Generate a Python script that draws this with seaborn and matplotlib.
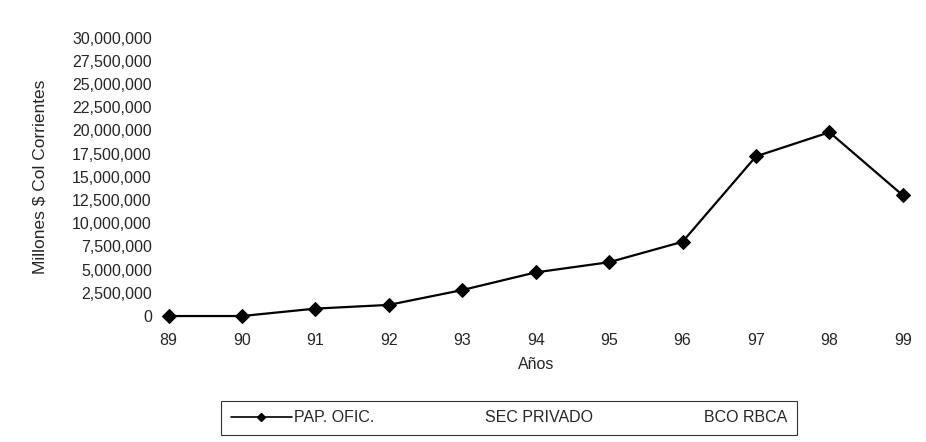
import numpy as np
import pandas as pd
import seaborn as sns
import matplotlib.pyplot as plt
from matplotlib.lines import Line2D
from matplotlib.ticker import FuncFormatter

years = [89, 90, 91, 92, 93, 94, 95, 96, 97, 98, 99]
pap_ofic = [0, 0, 800000, 1200000, 2800000, 4700000, 5800000, 8000000, 17200000, 19800000, 13000000]
series_names = ["PAP. OFIC.", "SEC PRIVADO", "BCO RBCA"]
y_ticks = np.arange(0, 30000001, 2500000)

df = pd.DataFrame({"Year": years, "Valor": pap_ofic})

sns.set_theme(style="white")
plt.rcParams["font.family"] = ["Liberation Sans", "DejaVu Sans"]

fig = plt.figure(figsize=(9.26, 4.42), dpi=100)
ax = fig.add_axes([0.182, 0.285, 0.793, 0.63])

sns.lineplot(data=df, x="Year", y="Valor", color="black", linewidth=1.6,
             marker="D", markersize=7, markeredgecolor="black", ax=ax, clip_on=False)

ax.set_xlim(89, 99)
ax.set_ylim(0, 30000000)
ax.set_xticks(years)
ax.set_xticklabels([str(y) for y in years])
ax.set_yticks(y_ticks)
ax.yaxis.set_major_formatter(FuncFormatter(lambda v, p: "0" if v == 0 else f"{v:,.0f}"))
ax.tick_params(axis="y", length=0, pad=12, labelsize=11.5)
ax.tick_params(axis="x", length=0, pad=12, labelsize=11.5)
for s in ax.spines.values():
    s.set_visible(False)

ax.set_xlabel("Años", fontsize=11.5, labelpad=7)
ax.set_ylabel("Millones $ Col Corrientes", fontsize=12.5)
ax.yaxis.set_label_coords(-0.165, 0.5)

handles = [
    Line2D([], [], color="black", marker="D", markersize=4, linewidth=1.2),
    Line2D([], [], color="none"),
    Line2D([], [], color="none"),
]
leg = fig.legend(handles, series_names, loc="center", bbox_to_anchor=(0.55, 0.055),
                 ncol=3, frameon=True, fontsize=11.5, handlelength=3.8,
                 handletextpad=0.15, columnspacing=3.0, borderpad=0.6)
leg.get_frame().set_edgecolor("black")
leg.get_frame().set_linewidth(0.8)
leg.get_frame().set_boxstyle("square", pad=0)

fig.savefig("out.png", dpi=100)
